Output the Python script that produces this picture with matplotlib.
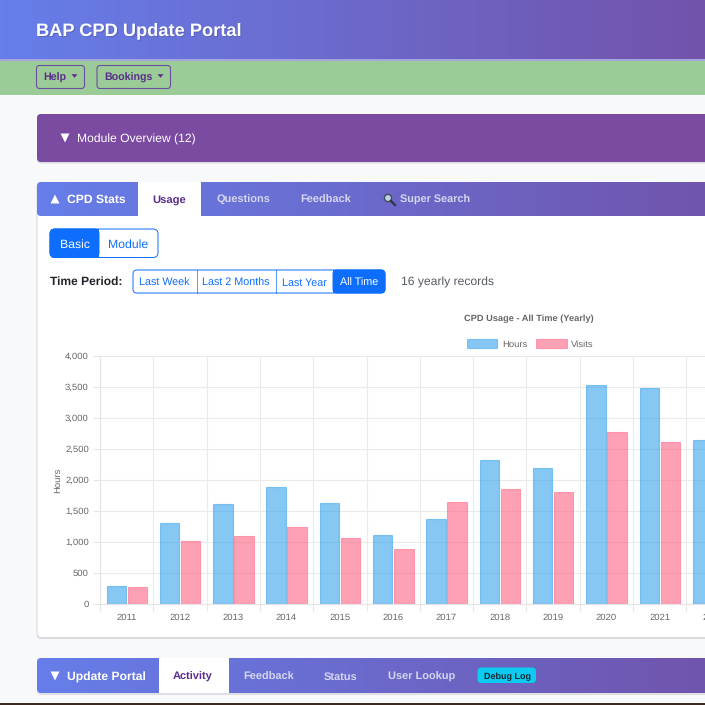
import numpy as np
import matplotlib
matplotlib.use('Agg')
import matplotlib.pyplot as plt
from matplotlib.patches import Rectangle, FancyBboxPatch, Polygon, Circle
from matplotlib.ticker import FuncFormatter, MultipleLocator
from matplotlib.colors import to_rgb

plt.rcParams['font.family'] = ['Liberation Sans', 'DejaVu Sans']
plt.rcParams['text.hinting'] = 'none'

# Data
years = ['2011', '2012', '2013', '2014', '2015', '2016', '2017', '2018', '2019', '2020', '2021', '2022']
hours = [290, 1300, 1610, 1890, 1630, 1110, 1370, 2330, 2200, 3540, 3490, 2640]
visits = [275, 1020, 1100, 1250, 1070, 890, 1650, 1860, 1800, 2770, 2620]
y_ticks = [0, 500, 1000, 1500, 2000, 2500, 3000, 3500, 4000]

SIZE = 705
PURPLE = '#5a2d8c'
BLUE = '#0d6efd'
TAB = '#d5d6f0'


def px(size):
    return size * 0.72


fig = plt.figure(figsize=(7.05, 7.05), dpi=100, facecolor='#f8f9fa')

# Page furniture, drawn in pixel coordinates
ui = fig.add_axes([0, 0, 1, 1], zorder=0)
ui.set_xlim(0, SIZE)
ui.set_ylim(SIZE, 0)
ui.axis('off')


def gradient(x0, y0, x1, y1, left='#667eea', right='#7253ab', rounded=0):
    t = np.linspace(0, 1, 200)
    c0, c1 = np.array(to_rgb(left)), np.array(to_rgb(right))
    img = (c0[None, :] * (1 - t[:, None]) + c1[None, :] * t[:, None])[None, :, :]
    im = ui.imshow(img, extent=[x0, x1, y1, y0], aspect='auto', zorder=2)
    if rounded:
        clip = FancyBboxPatch((x0, y0), x1 - x0 + 20, y1 - y0,
                              boxstyle=f'round,pad=0,rounding_size={rounded}',
                              transform=ui.transData, fc='none', ec='none')
        ui.add_patch(clip)
        im.set_clip_path(clip)
    ui.set_xlim(0, SIZE)
    ui.set_ylim(SIZE, 0)


def box(x0, y0, x1, y1, fc='white', ec='none', lw=1, r=0, z=3):
    if r:
        p = FancyBboxPatch((x0, y0), x1 - x0, y1 - y0,
                           boxstyle=f'round,pad=0,rounding_size={r}',
                           fc=fc, ec=ec, lw=lw, zorder=z)
    else:
        p = Rectangle((x0, y0), x1 - x0, y1 - y0, fc=fc, ec=ec, lw=lw, zorder=z)
    ui.add_patch(p)
    return p


def label(x, y, s, size=13, color='white', weight='normal', ha='left'):
    # y is the middle of the capitals, so mixed words share one baseline
    ui.text(x, y + 0.36 * size, s, fontsize=px(size), color=color, fontweight=weight,
            ha=ha, va='baseline', zorder=6)


def triangle(cx, cy, up=False, w=5.5, h=5, color='white'):
    s = -1 if up else 1
    ui.add_patch(Polygon([(cx - w, cy - s * h), (cx + w, cy - s * h), (cx, cy + s * h)],
                         fc=color, ec='none', zorder=6))


# Top header and green nav
gradient(0, 0, SIZE, 59)
box(0, 59, SIZE, 60.5, fc='#a4a6dc')
box(0, 60.5, SIZE, 95, fc='#9bcc97')
ui.text(37, 35.8, 'BAP CPD Update Portal', fontsize=px(18.3), color='#3d3f80', alpha=0.35,
        fontweight='bold', va='baseline', zorder=5)
label(36, 28.2, 'BAP CPD Update Portal', size=18.3, weight='bold')

box(36.5, 65.5, 84.5, 88.5, fc='none', ec='#69509e', lw=0.8, r=3, z=5)
label(43, 77, 'Help', size=10.6, color=PURPLE, weight='bold')
triangle(74.5, 76, w=3, h=1.8, color=PURPLE)
box(97, 65.5, 170.5, 88.5, fc='none', ec='#69509e', lw=0.8, r=3, z=5)
label(104, 77, 'Bookings', size=10.6, color=PURPLE, weight='bold')
triangle(160.5, 76, w=3, h=1.8, color=PURPLE)

# Module overview band
box(37, 115, 730, 163.5, fc='#dcdde0', r=4, z=1)
box(37, 114, 730, 162, fc='#7b4aa1', r=4)
triangle(65, 138, w=4.5, h=4.5)
label(77, 138, 'Module Overview (12)', size=12.1)

# Stats card
box(36.5, 182, 740, 639, fc='#d9dadd', r=5, z=1)
box(37.5, 183, 740, 637, fc='white', r=4, z=1.5)
gradient(37, 182, SIZE, 216, right='#7055ad', rounded=4)
box(138, 182, 201, 216, fc='white', z=4)
triangle(55, 199, up=True, w=4.5, h=4.5)
label(67, 199, 'CPD Stats', size=12.1, weight='bold')
label(169.5, 199, 'Usage', size=11.2, color=PURPLE, weight='bold', ha='center')
label(243.5, 199, 'Questions', size=11, color=TAB, weight='bold', ha='center')
label(326, 199, 'Feedback', size=11, color=TAB, weight='bold', ha='center')
label(400, 199, 'Super Search', size=10.9, color=TAB, weight='bold')
ui.add_patch(Circle((388, 198), 3.6, fc='#b8d4ea', ec='#4a4a55', lw=1, zorder=6))
ui.plot([391, 395], [201, 205], color='#333340', lw=1.6, zorder=6)

# Basic / Module toggle
box(50, 229, 158, 257.5, fc='white', ec=BLUE, lw=0.7, r=5, z=4)
box(50, 229, 99, 257.5, fc=BLUE, ec=BLUE, lw=0.7, r=5, z=4.5)
box(90, 229, 99, 257.5, fc=BLUE, z=4.6)
label(74.5, 243, 'Basic', size=12.3, ha='center')
label(128, 243, 'Module', size=12.3, color=BLUE, ha='center')

# Time period buttons
label(50, 281, 'Time Period:', size=12, color='#212529', weight='bold')
box(133, 270, 385, 293, fc='white', ec=BLUE, lw=0.7, r=4, z=4)
box(333, 270, 385, 293, fc=BLUE, ec=BLUE, lw=0.7, r=4, z=4.5)
box(333, 270, 342, 293, fc=BLUE, z=4.6)
for split in [196.5, 276]:
    ui.plot([split, split], [270, 293], color=BLUE, lw=0.7, alpha=0.7, zorder=5)
label(164.5, 282, 'Last Week', size=10.8, color=BLUE, ha='center')
label(236, 282, 'Last 2 Months', size=10.8, color=BLUE, ha='center')
label(304.5, 282, 'Last Year', size=10.8, color=BLUE, ha='center')
label(359, 282, 'All Time', size=10.8, ha='center')
label(401, 281, '16 yearly records', size=12.1, color='#555b62')

# Update portal bar
box(37, 659, 730, 695, fc='#dfe0e6', r=4, z=1)
gradient(37, 658, SIZE, 693, right='#7055ad', rounded=4)
box(159, 658, 228.5, 693, fc='white', z=4)
triangle(55, 676, w=4.5, h=4.5)
label(67, 676, 'Update Portal', size=12.1, weight='bold')
label(193, 676, 'Activity', size=11, color=PURPLE, weight='bold', ha='center')
label(269, 676, 'Feedback', size=11, color=TAB, weight='bold', ha='center')
label(341, 676, 'Status', size=11, color=TAB, weight='bold', ha='center')
label(422, 676, 'User Lookup', size=11, color=TAB, weight='bold', ha='center')
box(477.5, 667.5, 536, 683, fc='#0dcaf0', r=4, z=4)
label(507, 675.5, 'Debug Log', size=9, color='#16252c', weight='bold', ha='center')

# Dark strip at the very bottom
box(0, 702.5, SIZE, 705, fc='#3a2a22', z=8)

# Chart, the axes run past the right edge of the picture
left, right, top, bottom = 100, 100 + 53.3 * len(years), 356, 604
ax = fig.add_axes([left / SIZE, 1 - bottom / SIZE, (right - left) / SIZE, (bottom - top) / SIZE],
                  zorder=2)
ax.patch.set_alpha(0)

bar_w = 0.365
x = np.arange(len(years))
bars_h = ax.bar(x[:len(hours)] - 0.195, hours, bar_w, label='Hours',
                facecolor=(54 / 255, 162 / 255, 235 / 255, 0.6),
                edgecolor=(54 / 255, 162 / 255, 235 / 255, 0.55), linewidth=0.8, zorder=3)
bars_v = ax.bar(x[:len(visits)] + 0.2, visits, bar_w, label='Visits',
                facecolor=(255 / 255, 99 / 255, 132 / 255, 0.6),
                edgecolor=(255 / 255, 99 / 255, 132 / 255, 0.55), linewidth=0.8, zorder=3)

ax.set_xlim(-0.5, len(years) - 0.5)
ax.set_ylim(0, 4000)
ax.set_yticks(y_ticks)
ax.yaxis.set_major_formatter(FuncFormatter(lambda v, _: f'{int(v):,}'))
ax.set_xticks(x)
ax.set_xticklabels(years)
ax.xaxis.set_minor_locator(MultipleLocator(1, offset=0.5))
ax.grid(True, axis='y', which='major', color='#ebebeb', lw=0.8, zorder=0)
ax.grid(True, axis='x', which='minor', color='#ebebeb', lw=0.8, zorder=0)
ax.tick_params(axis='x', which='major', length=0, labelsize=px(9.5), labelcolor='#666666', pad=6.5)
ax.tick_params(axis='x', which='minor', length=5, color='#e6e6e6', width=0.8)
ax.tick_params(axis='y', length=5, color='#e6e6e6', width=0.8, labelsize=px(9.5),
               labelcolor='#666666', pad=3)
for name, spine in ax.spines.items():
    spine.set_visible(name in ('left', 'bottom'))
    spine.set_color('#e4e4e4')
    spine.set_linewidth(0.8)
ax.set_ylabel('Hours', fontsize=px(9.5), color='#666666')
ax.yaxis.set_label_coords((62 - left) / (right - left), 0.5)

fig.text(529 / SIZE, 1 - 319 / SIZE, 'CPD Usage - All Time (Yearly)', fontsize=px(9.3),
         fontweight='bold', color='#666666', ha='center', va='center', zorder=5)
ax.legend(handles=[bars_h, bars_v], loc='center', bbox_to_anchor=(530 / SIZE, 1 - 344 / SIZE),
          bbox_transform=fig.transFigure, ncols=2, frameon=False, fontsize=px(9.5),
          labelcolor='#666666', handlelength=3.25, handleheight=0.95, handletextpad=0.45,
          columnspacing=0.9, borderpad=0, borderaxespad=0)

fig.savefig('out.png', dpi=100, facecolor=fig.get_facecolor())
